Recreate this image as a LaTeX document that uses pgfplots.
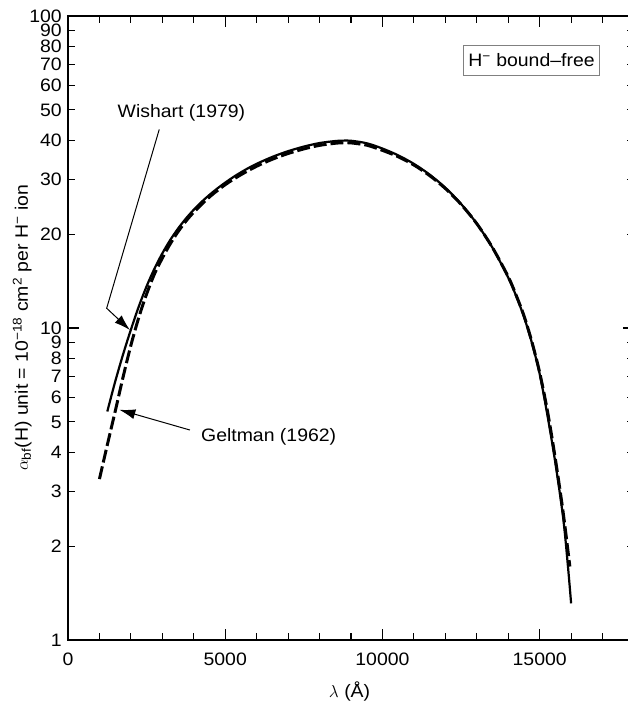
\documentclass[border=0pt]{standalone}
\usepackage{fontspec}
\setmainfont{Liberation Sans}[FakeStretch=1.08]
\usepackage{pgfplots}
\pgfplotsset{compat=1.18}
\usepackage{pgfplotstable}
\usetikzlibrary{arrows.meta}

\pgfplotstableread{
x y
1250 5.40
1500 6.73
1750 8.22
2000 9.88
2250 11.71
2500 13.61
2750 15.50
3000 17.35
3250 19.14
3500 20.83
3750 22.43
4000 23.94
4250 25.37
4500 26.72
4750 28.01
5000 29.24
5250 30.43
5500 31.55
5750 32.61
6000 33.60
6500 35.36
7000 36.88
7500 38.15
8000 39.16
8500 39.75
8750 39.87
9000 39.83
9500 39.1
10000 37.6
10500 35.77
11000 33.58
11500 31.03
12000 28.16
12500 24.98
13000 21.6
13500 18.08
14000 14.51
14250 12.68
14500 10.86
14750 8.98
15000 7.13
15250 5.23
15500 3.69
15750 2.45
15900 1.72
16000 1.31
}\wishart

\pgfplotstableread{
x y
1000 3.28
1250 4.22
1500 5.40
1750 6.95
2000 8.80
2250 10.8
2500 12.85
2750 14.9
3000 16.75
3250 18.6
3500 20.35
3750 22.0
4000 23.5
4500 26.3
5000 28.8
5500 31.0
6000 33.0
6500 34.75
7000 36.25
7500 37.5
8000 38.5
8500 39.1
8750 39.25
9000 39.2
9500 38.55
10000 37.1
10500 35.4
11000 33.3
11500 30.8
12000 28.0
12500 24.9
13000 21.6
13500 18.1
14000 14.6
14250 12.75
14500 10.95
14750 9.05
15000 7.2
15250 5.4
15500 3.8
15750 2.55
15960 1.72
}\geltman

\begin{document}
\fontsize{18pt}{21pt}\selectfont
\begin{tikzpicture}
\begin{axis}[
  scale only axis,
  width=566pt, height=624pt,
  xmin=0, xmax=18000,
  ymode=log, ymin=1, ymax=100,
  scaled x ticks=false,
  xtick={0,5000,10000,15000},
  xticklabels={0,5000,10000,15000},
  minor xtick={1000,2000,3000,4000,6000,7000,8000,9000,11000,12000,13000,14000,16000,17000},
  xticklabel style={yshift=-7pt},
  ytick={1,10,100},
  yticklabels={1,10,100},
  yminorticks=false,
  extra y ticks={2,3,4,5,6,7,8,9,20,30,40,50,60,70,80,90},
  extra y tick labels={2,3,4,5,6,7,8,9,20,30,40,50,60,70,80,90},
  extra y tick style={major tick length=7pt},
  major tick length=11pt,
  minor tick length=7pt,
  tick align=inside,
  tick style={black, line width=1.1pt},
  axis line style={black, line width=1.6pt},
  xlabel={$\lambda$ (Å)},
  xlabel style={at={(axis description cs:0.4975,0)}, anchor=center, yshift=-52pt},
  ylabel={$\alpha$\textsubscript{bf}(H) unit = 10\textsuperscript{−18} cm\textsuperscript{2} per H\textsuperscript{−} ion},
  ylabel style={at={(axis description cs:-0.081,0.5)}, anchor=center},
  clip=false,
]
\coordinate (O) at (rel axis cs:0,0);
\addplot[black, line width=3pt, dash pattern=on 13pt off 4pt, smooth] table[x=x,y=y] {\geltman};
\addplot[black, line width=2.2pt, smooth] table[x=x,y=y] {\wishart};

\node[anchor=center] at (axis cs:3608,48.9) {Wishart (1979)};
\draw[black, line width=1pt, -{Latex[length=16pt,width=10pt]}]
  (axis cs:2902,43.3) -- (axis cs:1230,11.57) -- (axis cs:1971,9.85);
\node[anchor=west] at (axis cs:4037,4.48) {Geltman (1962)};
\draw[black, line width=1pt, -{Latex[length=16pt,width=10pt]}]
  (axis cs:3878,4.71) -- (axis cs:1631,5.47);
\node[draw=gray, line width=0.9pt, inner xsep=5pt, minimum height=30pt, anchor=center]
  at (axis cs:14741,72.1) {H\textsuperscript{−} bound–free};
\end{axis}
\pgfresetboundingbox
\path (O) ++(-68pt,-64pt) rectangle ++(627pt,704pt);
\end{tikzpicture}
\end{document}
